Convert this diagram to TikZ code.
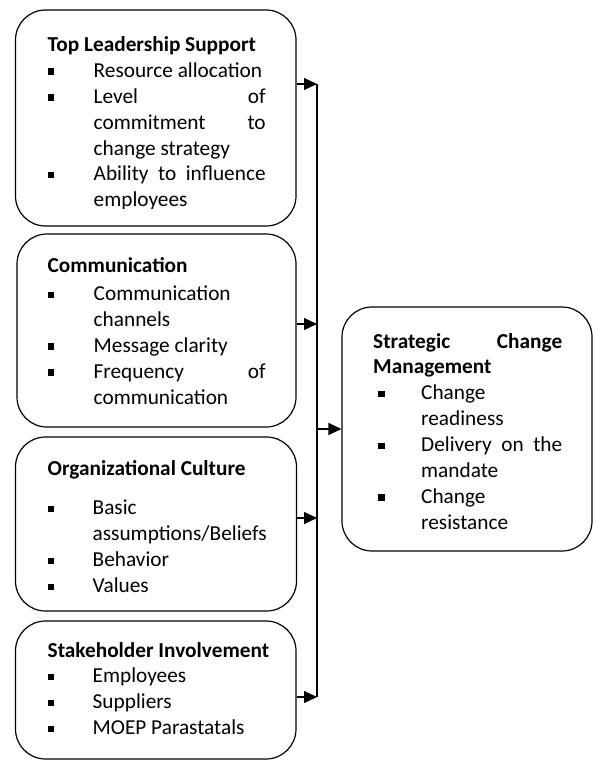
\documentclass[tikz,border=0pt]{standalone}
\usepackage{fontspec}
\setmainfont{Carlito}
\usetikzlibrary{arrows.meta}

% bullet offset and indent of the list text
\newlength\bulx
\newlength\txtx
\newcommand\bitem[1]{\par\noindent\hangindent=\txtx\relax\hangafter=1\relax
  \makebox[\txtx][l]{\hspace*{\bulx}\rule[2.5pt]{6.5pt}{6.5pt}}#1\par}
\newcommand\boxfont{\fontsize{21.3}{25.9}\selectfont
  \hyphenpenalty=10000 \exhyphenpenalty=10000 \tolerance=10000 \parindent=0pt}

\tikzset{
  panel/.style={draw, line width=1.2pt, rounded corners=30pt, inner sep=0pt},
  blurb/.style={anchor=base west, inner sep=0pt, text width=#1, align=justify, font=\boxfont},
  feed/.style={line width=1.2pt, -{Triangle[length=13pt,width=12pt]}},
  bus/.style={line width=1.2pt}
}

\begin{document}
\begin{tikzpicture}[x=1pt,y=-1pt]
\useasboundingbox (0,0) rectangle (593,760);

% factor boxes on the left, outcome box on the right
\node[panel, minimum width=280.5pt, minimum height=216pt] (b1) at (155.75,118) {};
\node[panel, minimum width=279pt,   minimum height=193pt] (b2) at (156.5,330.5) {};
\node[panel, minimum width=281pt,   minimum height=174pt] (b3) at (156,524) {};
\node[panel, minimum width=280.5pt, minimum height=138pt] (b4) at (155.75,690) {};
\node[panel, minimum width=250pt,   minimum height=244pt] (r)  at (467,429) {};

% box texts (the first one is cut off at the bottom of its frame)
\begin{scope}
  \clip (0,0) rectangle (300,208.5);
  \node[blurb=218pt] (t1) at (47.5,51.5) {\setlength\txtx{46pt}\setlength\bulx{0pt}%
    \mbox{\textbf{Top Leadership Support}}%
    \bitem{Resource allocation}%
    \bitem{Level of\linebreak commitment to\linebreak change strategy}%
    \bitem{Ability to influence\linebreak employees}};
\end{scope}

\node[blurb=218pt] (t2) at (47.5,272.7) {\setlength\txtx{46pt}\setlength\bulx{0pt}%
  \mbox{\textbf{Communication}}\par\vspace{2pt}%
  \bitem{Communication\newline channels}%
  \bitem{Message clarity}%
  \bitem{Frequency of\linebreak communication}};

\node[blurb=218pt] (t3) at (47.5,475) {\setlength\txtx{45pt}\setlength\bulx{0pt}%
  \mbox{\textbf{Organizational Culture}}\par\vspace{14pt}%
  \bitem{Basic\newline assumptions/Beliefs}%
  \bitem{Behavior}%
  \bitem{Values}};

\node[blurb=218pt] (t4) at (47.5,657) {\setlength\txtx{45pt}\setlength\bulx{0pt}%
  \mbox{\textbf{Stakeholder Involvement}}%
  \bitem{Employees}%
  \bitem{Suppliers}%
  \bitem{MOEP Parastatals}};

\node[blurb=189pt] (tr) at (373,348) {\setlength\txtx{48pt}\setlength\bulx{5pt}%
  \textbf{Strategic Change\linebreak Management}%
  \bitem{Change\newline readiness}%
  \bitem{Delivery on the\linebreak mandate}%
  \bitem{Change\newline resistance}};

% collecting line and arrows
\coordinate (j1) at (317,84);
\coordinate (j2) at (317,324);
\coordinate (jr) at (317,429);
\coordinate (j3) at (317,518);
\coordinate (j4) at (317,697);

\draw[bus] (j1) -- (j4);
\draw[feed] (j1 -| b1.east) -- (j1);
\draw[feed] (j2 -| b2.east) -- (j2);
\draw[feed] (j3 -| b3.east) -- (j3);
\draw[feed] (j4 -| b4.east) -- (j4);
\draw[feed] (jr) -- (r.west);
\end{tikzpicture}
\end{document}
